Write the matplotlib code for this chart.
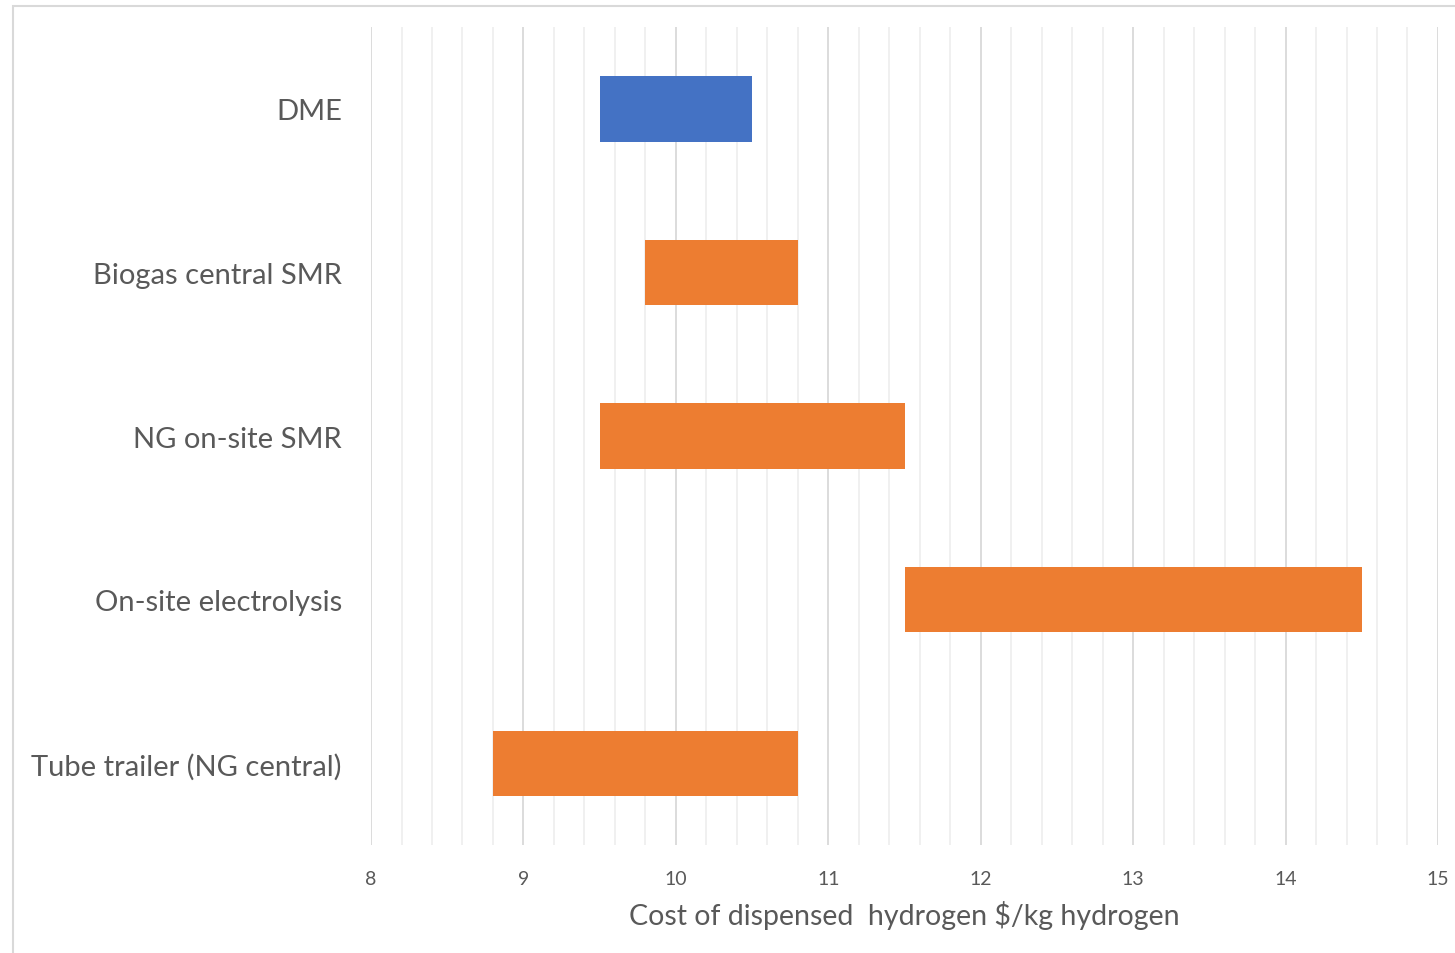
import matplotlib
matplotlib.use("Agg")
import matplotlib.pyplot as plt
from matplotlib.patches import Rectangle
from matplotlib.ticker import MultipleLocator

# Dispensed hydrogen cost ranges ($/kg), top to bottom
pathways = [
    "DME",
    "Biogas central SMR",
    "NG on-site SMR",
    "On-site electrolysis",
    "Tube trailer (NG central)",
]
cost_low = [9.5, 9.8, 9.5, 11.5, 8.8]
cost_high = [10.5, 10.8, 11.5, 14.5, 10.8]
bar_colors = ["#4472C4", "#ED7D31", "#ED7D31", "#ED7D31", "#ED7D31"]

TEXT = "#595959"

plt.rcParams["font.family"] = ["Lato", "DejaVu Sans"]

fig = plt.figure(figsize=(14.55, 9.54), dpi=100)
ax = fig.add_axes([0.255, 0.113, 0.7333, 0.8576])

# outer chart frame
fig.patches.append(
    Rectangle((13 / 1455, -0.1), 1.2, 1 - 7 / 954 + 0.1,
              transform=fig.transFigure, fill=False,
              edgecolor="#d9d9d9", linewidth=1.5, zorder=0)
)

ypos = list(range(len(pathways)))
widths = [h - l for l, h in zip(cost_low, cost_high)]
ax.barh(ypos, widths, left=cost_low, height=0.4, color=bar_colors, zorder=3)

ax.set_xlim(8, 15)
ax.set_ylim(len(pathways) - 0.5, -0.5)
ax.xaxis.set_major_locator(MultipleLocator(1))
ax.xaxis.set_minor_locator(MultipleLocator(0.2))
ax.grid(axis="x", which="major", color="#d9d9d9", linewidth=1.3, zorder=0)
ax.grid(axis="x", which="minor", color="#efefef", linewidth=1.3, zorder=0)

for s in ax.spines.values():
    s.set_visible(False)

ax.set_yticks(ypos)
ax.set_yticklabels(pathways, fontsize=21, color=TEXT)
ax.tick_params(axis="y", length=0, pad=21)
ax.tick_params(axis="x", which="both", length=0, pad=18, labelsize=14,
               labelcolor=TEXT)

ax.set_xlabel(r"Cost of dispensed  hydrogen \$/kg hydrogen", fontsize=20.5,
              color=TEXT, labelpad=9)

fig.savefig("out.png", dpi=100)
